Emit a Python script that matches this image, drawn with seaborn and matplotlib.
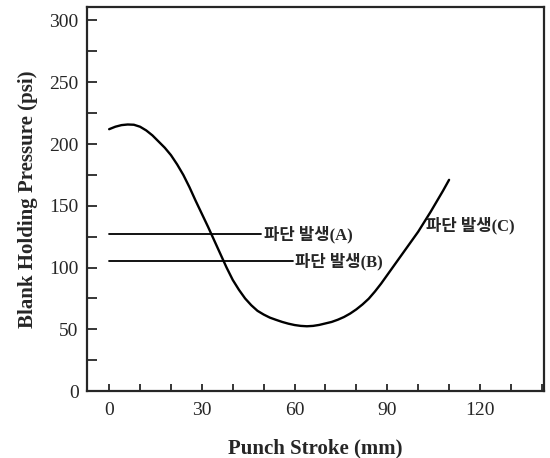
import matplotlib
matplotlib.use("Agg")
import matplotlib.pyplot as plt
from matplotlib.ticker import MultipleLocator
import pandas as pd
import seaborn as sns

sns.set_style("ticks")
plt.rcParams['font.family'] = ['Liberation Serif', 'Noto Sans CJK KR']

# curve
stroke = [0, 2, 4, 6, 8, 10, 12, 14, 16, 18, 20, 22, 24, 26, 28, 30, 32, 34,
          36, 38, 40, 42, 44, 46, 48, 50, 52, 54, 56, 58, 60, 62, 64, 66, 68,
          70, 72, 74, 76, 78, 80, 82, 84, 86, 88, 90, 92, 94, 96, 98, 100,
          102, 104, 106, 108, 110]
pressure = [212, 214, 215.3, 215.8, 215.6, 214, 211, 207, 202, 197, 191,
            183.5, 175, 165, 154, 143.5, 133, 122, 111, 100, 90, 82, 75, 69.5,
            65, 62, 59.5, 57.7, 56, 54.6, 53.5, 52.8, 52.5, 52.8, 53.6, 54.8,
            56, 57.8, 60, 62.8, 66.2, 70.2, 74.8, 80.6, 87, 94, 101, 108, 115,
            122, 129, 137, 145, 153.5, 162, 171]

# fracture limit lines (A), (B) and labels
line_a_x = [0, 49]
line_a_y = 127
line_b_x = [0, 59.5]
line_b_y = 105
labels = ['파단 발생(A)', '파단 발생(B)', '파단 발생(C)']
label_x = [50, 60, 102.5]
label_y = [127, 105, 134]

df = pd.DataFrame({'stroke': stroke, 'pressure': pressure})

fig = plt.figure(figsize=(5.5, 4.58), dpi=100)
ax = fig.add_axes([0.158, 0.146, 0.831, 0.839])

sns.lineplot(data=df, x='stroke', y='pressure', color='black', lw=1.7, ax=ax)
ax.plot(line_a_x, [line_a_y] * 2, color='black', lw=1.3)
ax.plot(line_b_x, [line_b_y] * 2, color='black', lw=1.3)
for t, x, y in zip(labels, label_x, label_y):
    ax.text(x, y, t, fontsize=12, fontweight='bold', va='center', ha='left')

ax.set_xlim(-7.2, 140.7)
ax.set_ylim(0, 311)
ax.xaxis.set_major_locator(MultipleLocator(30))
ax.xaxis.set_minor_locator(MultipleLocator(10))
ax.yaxis.set_major_locator(MultipleLocator(50))
ax.yaxis.set_minor_locator(MultipleLocator(25))
ax.tick_params(which='both', direction='in', width=1.3, labelsize=14)
ax.tick_params(axis='y', which='both', length=7, pad=6)
ax.tick_params(axis='x', which='both', length=5, pad=8)
for s in ax.spines.values():
    s.set_linewidth(1.6)

ax.set_xlabel('Punch Stroke (mm)', fontsize=15, fontweight='bold', labelpad=14)
ax.set_ylabel('Blank Holding Pressure (psi)', fontsize=15, fontweight='bold', labelpad=8)

fig.savefig('out.png', dpi=100)
